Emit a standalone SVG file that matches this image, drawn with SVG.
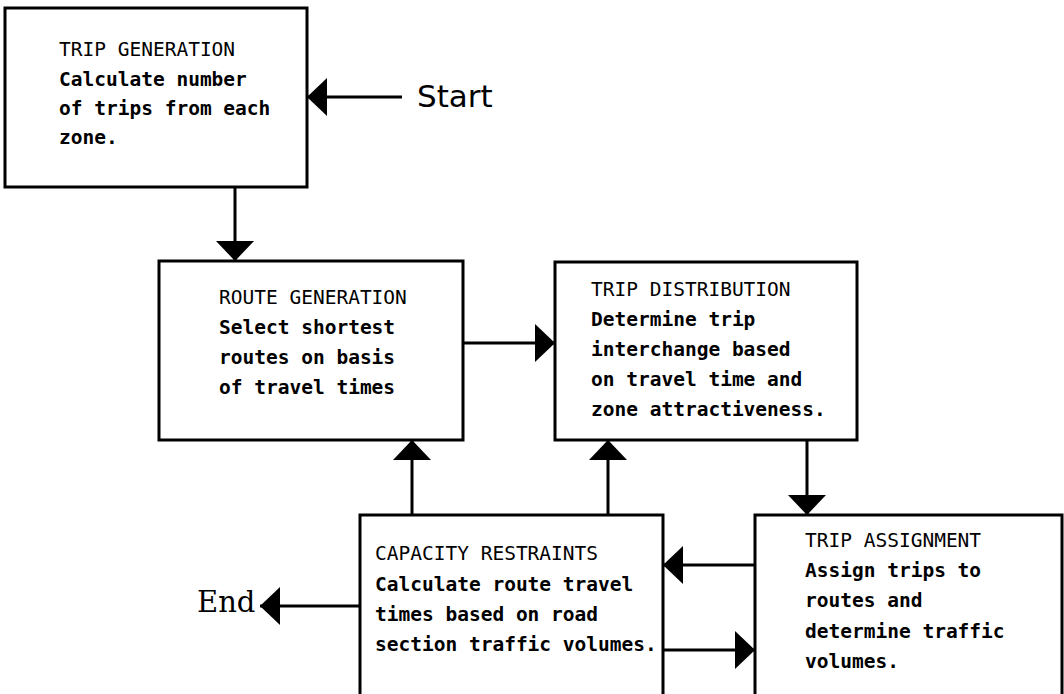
<svg xmlns="http://www.w3.org/2000/svg" width="1064" height="694" viewBox="0 0 1064 694">
<defs>
<marker id="ah" viewBox="0 0 20 38" markerWidth="20" markerHeight="38" refX="20" refY="19" orient="auto" markerUnits="userSpaceOnUse">
<path d="M0,0 L20,19 L0,38 Z" fill="#000"/>
</marker>
<style>
.box{fill:#fff;stroke:#000;stroke-width:3}
.t{font-family:"DejaVu Sans Mono","Liberation Mono",monospace;font-size:19.5px;fill:#000}
.h{font-weight:normal}
.b{font-weight:bold}
.conn line{stroke:#000;stroke-width:3;marker-end:url(#ah)}
.start{font-family:"DejaVu Sans","Liberation Sans",sans-serif;font-size:31px;fill:#000}
.end{font-family:"DejaVu Serif","Liberation Serif",serif;font-size:29px;fill:#000}
</style>
</defs>
<rect width="1064" height="694" fill="#fff"/>
<g id="trip-generation">
<rect class="box" x="5" y="8" width="302" height="179"/>
<text class="t h" x="59" y="56">TRIP GENERATION</text>
<text class="t b" x="59" y="86">Calculate number</text>
<text class="t b" x="59" y="115">of trips from each</text>
<text class="t b" x="59" y="144">zone.</text>
</g>
<g id="route-generation">
<rect class="box" x="159" y="261" width="304" height="179"/>
<text class="t h" x="219" y="304">ROUTE GENERATION</text>
<text class="t b" x="219" y="334">Select shortest</text>
<text class="t b" x="219" y="364">routes on basis</text>
<text class="t b" x="219" y="394">of travel times</text>
</g>
<g id="trip-distribution">
<rect class="box" x="555" y="262" width="302" height="178"/>
<text class="t h" x="591" y="296">TRIP DISTRIBUTION</text>
<text class="t b" x="591" y="326">Determine trip</text>
<text class="t b" x="591" y="356">interchange based</text>
<text class="t b" x="591" y="386">on travel time and</text>
<text class="t b" x="591" y="416">zone attractiveness.</text>
</g>
<g id="capacity-restraints">
<rect class="box" x="360" y="515" width="303" height="190"/>
<text class="t h" x="375" y="560">CAPACITY RESTRAINTS</text>
<text class="t b" x="375" y="591">Calculate route travel</text>
<text class="t b" x="375" y="621">times based on road</text>
<text class="t b" x="375" y="651">section traffic volumes.</text>
</g>
<g id="trip-assignment">
<rect class="box" x="755" y="515" width="307" height="190"/>
<text class="t h" x="805" y="547">TRIP ASSIGNMENT</text>
<text class="t b" x="805" y="577">Assign trips to</text>
<text class="t b" x="805" y="607">routes and</text>
<text class="t b" x="805" y="638">determine traffic</text>
<text class="t b" x="805" y="668">volumes.</text>
</g>
<g id="start">
<text class="start" x="417" y="107">Start</text>
</g>
<g id="end">
<text class="end" x="197" y="612">End</text>
</g>
<g id="connectors" class="conn">
<line x1="402" y1="97" x2="307" y2="97"/>
<line x1="235" y1="187" x2="235" y2="261"/>
<line x1="463" y1="343" x2="555" y2="343"/>
<line x1="807" y1="440" x2="807" y2="515"/>
<line x1="412" y1="515" x2="412" y2="440"/>
<line x1="608" y1="515" x2="608" y2="440"/>
<line x1="755" y1="565" x2="663" y2="565"/>
<line x1="663" y1="650" x2="755" y2="650"/>
<line x1="360" y1="606" x2="260" y2="606"/>
</g>
</svg>
